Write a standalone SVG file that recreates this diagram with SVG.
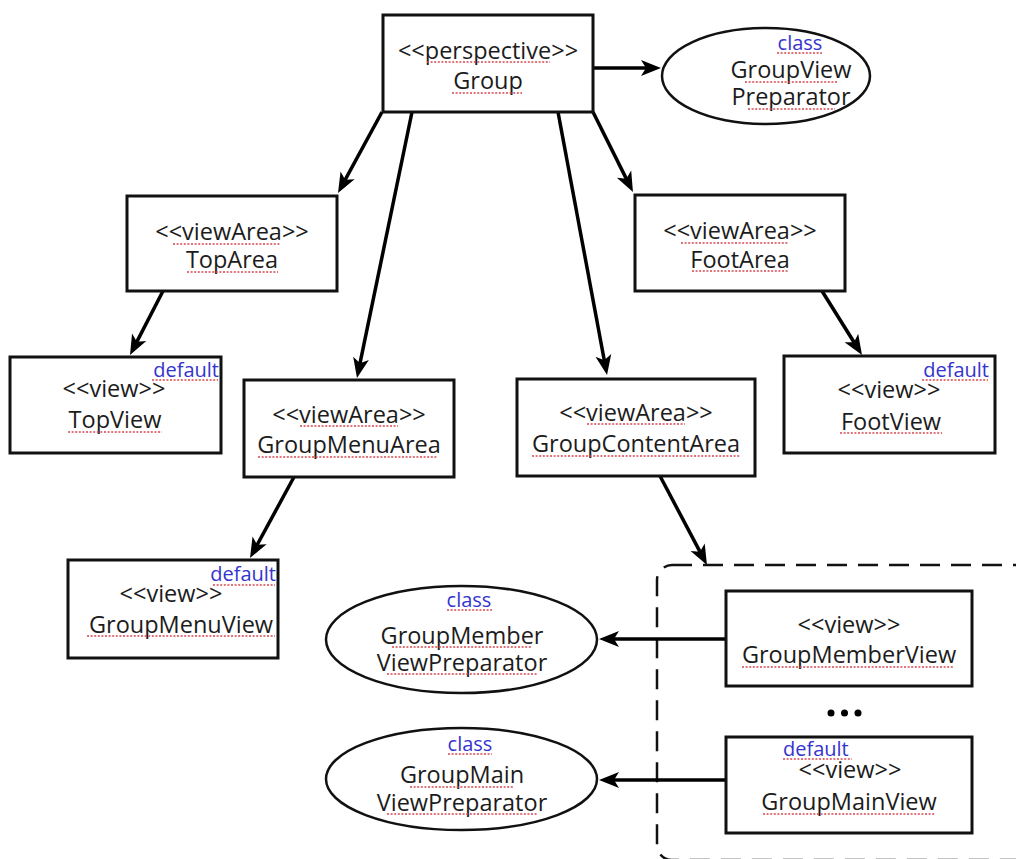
<svg xmlns="http://www.w3.org/2000/svg" width="1016" height="859" viewBox="0 0 1016 859">
  <style>
    .box { fill: #fff; stroke: #111; stroke-width: 3; }
    .ell { fill: #fff; stroke: #111; stroke-width: 2.5; }
    .t { font-family: "Open Sans", Lato, "DejaVu Sans", sans-serif; font-size: 23.5px; fill: #1c1c1c; text-anchor: middle; }
    .b { fill: #3434cf; font-size: 20px; }
    .end { text-anchor: end; }
    .start { text-anchor: start; }
    .sq { stroke: #d8474f; stroke-width: 1.6; stroke-dasharray: 2 1.6; fill: none; }
    .c { stroke: #000; stroke-width: 3.5; fill: none; marker-end: url(#ah); }
    .dash { fill: none; stroke: #111; stroke-width: 2.5; stroke-dasharray: 20 11; }
  </style>
  <defs>
    <marker id="ah" markerUnits="userSpaceOnUse" viewBox="-12 -10 24 20" markerWidth="24" markerHeight="20" refX="0" refY="0" orient="auto">
      <path d="M10,0 L-10,-8 L-5,0 L-10,8 Z" fill="#000"/>
    </marker>
  </defs>
  <rect width="1016" height="859" fill="#fff"/>

  <!-- content area container -->
  <rect id="contentContainer" class="dash" x="657" y="565" width="420" height="295" rx="15" ry="15"/>

  <g id="connectors">
    <line class="c" x1="593" y1="68" x2="651" y2="68"/>
    <line class="c" x1="382" y1="112" x2="342.8" y2="184.2"/>
    <line class="c" x1="412" y1="112" x2="359" y2="368.2"/>
    <line class="c" x1="558" y1="112" x2="605.2" y2="365.2"/>
    <line class="c" x1="593" y1="112" x2="628.5" y2="183.1"/>
    <line class="c" x1="163" y1="291" x2="134.6" y2="346.1"/>
    <line class="c" x1="822" y1="291" x2="856.7" y2="346.5"/>
    <line class="c" x1="294" y1="477" x2="254.8" y2="549.2"/>
    <line class="c" x1="660" y1="476" x2="702.3" y2="556.1"/>
    <line class="c" x1="726" y1="639" x2="609" y2="639"/>
    <line class="c" x1="726" y1="780" x2="609" y2="780"/>
  </g>

  <g id="group">
    <rect class="box" x="383" y="15" width="210" height="97"/>
    <text class="t" x="488" y="59">&lt;&lt;perspective&gt;&gt;</text>
    <text class="t" x="488" y="89">Group</text>
    <line class="sq" x1="427" y1="62" x2="550" y2="62"/>
    <line class="sq" x1="452" y1="93" x2="522" y2="93"/>
  </g>

  <g id="groupViewPreparator">
    <ellipse class="ell" cx="766" cy="76" rx="104" ry="48"/>
    <text class="t b" x="800" y="50">class</text>
    <text class="t" x="791" y="78">GroupView</text>
    <text class="t" x="791" y="105">Preparator</text>
    <line class="sq" x1="777" y1="53" x2="822" y2="53"/>
    <line class="sq" x1="745" y1="82" x2="838" y2="82"/>
    <line class="sq" x1="748" y1="109" x2="835" y2="109"/>
  </g>

  <g id="topArea">
    <rect class="box" x="127" y="196" width="210" height="95"/>
    <text class="t" x="232" y="240">&lt;&lt;viewArea&gt;&gt;</text>
    <text class="t" x="232" y="268">TopArea</text>
    <line class="sq" x1="173" y1="244" x2="280" y2="244"/>
    <line class="sq" x1="187" y1="272" x2="278" y2="272"/>
  </g>

  <g id="topView">
    <rect class="box" x="10" y="357" width="211" height="96"/>
    <text class="t b end" x="219" y="377">default</text>
    <text class="t" x="114" y="397">&lt;&lt;view&gt;&gt;</text>
    <text class="t" x="115" y="428">TopView</text>
    <line class="sq" x1="152" y1="380" x2="218" y2="380"/>
    <line class="sq" x1="68" y1="432" x2="162" y2="432"/>
  </g>

  <g id="footArea">
    <rect class="box" x="635" y="195" width="210" height="96"/>
    <text class="t" x="740" y="239">&lt;&lt;viewArea&gt;&gt;</text>
    <text class="t" x="740" y="268">FootArea</text>
    <line class="sq" x1="681" y1="243" x2="788" y2="243"/>
    <line class="sq" x1="692" y1="271" x2="788" y2="271"/>
  </g>

  <g id="footView">
    <rect class="box" x="784" y="356" width="211" height="97"/>
    <text class="t b end" x="989" y="377">default</text>
    <text class="t" x="889" y="398">&lt;&lt;view&gt;&gt;</text>
    <text class="t" x="891" y="430">FootView</text>
    <line class="sq" x1="922" y1="380" x2="988" y2="380"/>
    <line class="sq" x1="840" y1="433" x2="942" y2="433"/>
  </g>

  <g id="groupMenuArea">
    <rect class="box" x="244" y="380" width="210" height="97"/>
    <text class="t" x="349" y="423">&lt;&lt;viewArea&gt;&gt;</text>
    <text class="t" x="349" y="453">GroupMenuArea</text>
    <line class="sq" x1="300" y1="426" x2="398" y2="426"/>
    <line class="sq" x1="258" y1="457" x2="438" y2="457"/>
  </g>

  <g id="groupContentArea">
    <rect class="box" x="517" y="379" width="238" height="97"/>
    <text class="t" x="636" y="421">&lt;&lt;viewArea&gt;&gt;</text>
    <text class="t" x="636" y="452">GroupContentArea</text>
    <line class="sq" x1="587" y1="424" x2="685" y2="424"/>
    <line class="sq" x1="532" y1="456" x2="740" y2="456"/>
  </g>

  <g id="groupMenuView">
    <rect class="box" x="68" y="560" width="210" height="98"/>
    <text class="t b end" x="276" y="581">default</text>
    <text class="t" x="171" y="602">&lt;&lt;view&gt;&gt;</text>
    <text class="t" x="181" y="633">GroupMenuView</text>
    <line class="sq" x1="213" y1="585" x2="275" y2="585"/>
    <line class="sq" x1="87" y1="636" x2="275" y2="636"/>
  </g>

  <g id="groupMemberViewPreparator">
    <ellipse class="ell" cx="461.5" cy="639.5" rx="135.5" ry="53.5"/>
    <text class="t b" x="469" y="607">class</text>
    <text class="t" x="462" y="644">GroupMember</text>
    <text class="t" x="462" y="671">ViewPreparator</text>
    <line class="sq" x1="447" y1="610" x2="492" y2="610"/>
    <line class="sq" x1="392" y1="647" x2="532" y2="647"/>
    <line class="sq" x1="387" y1="674" x2="538" y2="674"/>
  </g>

  <g id="groupMainViewPreparator">
    <ellipse class="ell" cx="461.5" cy="779" rx="135.5" ry="51"/>
    <text class="t b" x="470" y="751">class</text>
    <text class="t" x="462" y="783">GroupMain</text>
    <text class="t" x="462" y="811">ViewPreparator</text>
    <line class="sq" x1="448" y1="754" x2="492" y2="754"/>
    <line class="sq" x1="410" y1="787" x2="513" y2="787"/>
    <line class="sq" x1="387" y1="814" x2="538" y2="814"/>
  </g>

  <g id="groupMemberView">
    <rect class="box" x="726" y="591" width="246" height="95"/>
    <text class="t" x="849" y="633">&lt;&lt;view&gt;&gt;</text>
    <text class="t" x="849" y="663">GroupMemberView</text>
    <line class="sq" x1="742" y1="667" x2="953" y2="667"/>
  </g>

  <!-- ellipsis between the stacked views -->
  <g id="moreViews" fill="#000">
    <circle cx="831" cy="713" r="3.5"/>
    <circle cx="844.5" cy="713" r="3.5"/>
    <circle cx="858" cy="713" r="3.5"/>
  </g>

  <g id="groupMainView">
    <rect class="box" x="726" y="737" width="246" height="96"/>
    <text class="t b start" x="783" y="756">default</text>
    <text class="t" x="850" y="778">&lt;&lt;view&gt;&gt;</text>
    <text class="t" x="849" y="810">GroupMainView</text>
    <line class="sq" x1="783" y1="759" x2="852" y2="759"/>
    <line class="sq" x1="763" y1="814" x2="935" y2="814"/>
  </g>
</svg>
